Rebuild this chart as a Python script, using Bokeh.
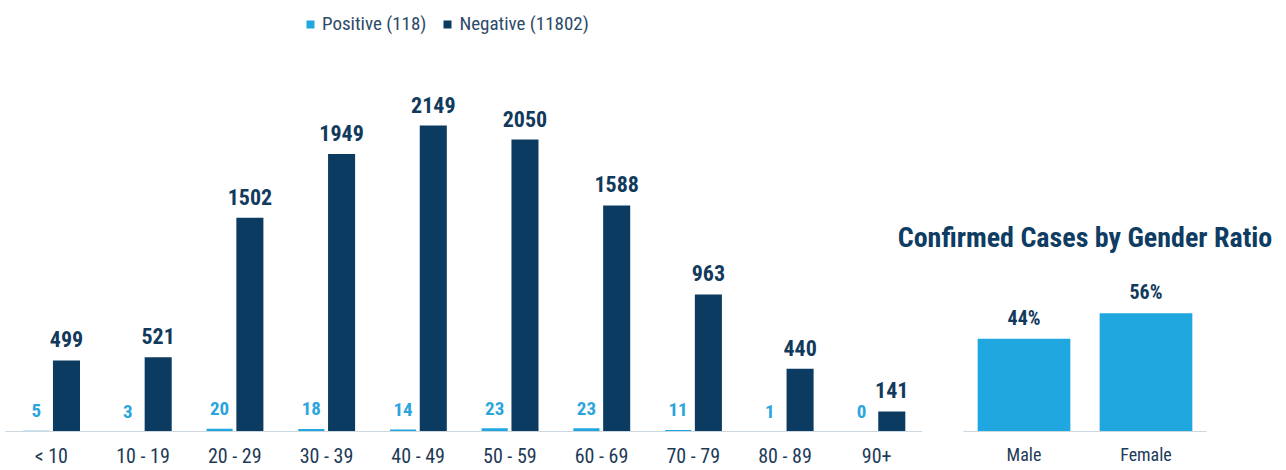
from bokeh.plotting import figure
from bokeh.models import ColumnDataSource, FactorRange, Range1d, Legend, LegendItem, GridBox, Label
from bokeh.transform import dodge
from bokeh.core.properties import value
from bokeh.embed import file_html
from bokeh.resources import INLINE

# ---------------- data ----------------
age_groups = ["< 10", "10 - 19", "20 - 29", "30 - 39", "40 - 49",
              "50 - 59", "60 - 69", "70 - 79", "80 - 89", "90+"]
positive = [5, 3, 20, 18, 14, 23, 23, 11, 1, 0]
negative = [499, 521, 1502, 1949, 2149, 2050, 1588, 963, 440, 141]

genders = ["Male", "Female"]
gender_pct = [44, 56]
gender_title = "Confirmed Cases by Gender Ratio"

# ---------------- style ----------------
FONT = "Roboto Condensed"
LIGHT = "#21a7df"
DARK = "#0b3b61"
DARK_TXT = "#123a5c"
LIGHT_TXT = "#2ba5dc"
AXIS_TXT = "#1d3a57"
BASE = "#cdd7e0"
H = 470
BASELINE = 431

# ---------------- left chart ----------------
src = ColumnDataSource(dict(
    age=age_groups, pos=positive, neg=negative,
    pos_txt=[str(v) for v in positive], neg_txt=[str(v) for v in negative]))

p = figure(x_range=FactorRange(*age_groups), y_range=Range1d(0, 3027),
           width=922, height=H, output_backend="svg", toolbar_location=None,
           y_axis_location=None, min_border_left=5, min_border_right=0,
           min_border_top=0, min_border_bottom=H - BASELINE,
           border_fill_color=None, background_fill_color=None,
           outline_line_color=None)

r_pos = p.vbar(x=dodge("age", -0.165, range=p.x_range), top="pos", width=0.285,
               source=src, fill_color=LIGHT, line_color=None)
r_neg = p.vbar(x=dodge("age", 0.165, range=p.x_range), top="neg", width=0.295,
               source=src, fill_color=DARK, line_color=None)

p.text(x=dodge("age", -0.165, range=p.x_range), y="pos", text="pos_txt", source=src,
       text_align="center", text_baseline="alphabetic", y_offset=-20,
       text_font=value(FONT), text_font_style="bold", text_font_size="19px",
       text_color=LIGHT_TXT)
p.text(x=dodge("age", 0.165, range=p.x_range), y="neg", text="neg_txt", source=src,
       text_align="center", text_baseline="alphabetic", y_offset=-21,
       text_font=value(FONT), text_font_style="bold", text_font_size="22px",
       text_color=DARK_TXT)

p.xgrid.visible = False
p.ygrid.visible = False
p.xaxis.axis_label = None
p.xaxis.axis_line_color = BASE
p.xaxis.axis_line_width = 1
p.xaxis.major_tick_line_color = None
p.xaxis.minor_tick_line_color = None
p.xaxis.major_label_text_font = FONT
p.xaxis.major_label_text_font_size = "20px"
p.xaxis.major_label_text_color = AXIS_TXT
p.xaxis.major_label_standoff = 6

legend = Legend(items=[
    LegendItem(label=f"Positive ({sum(positive)})", renderers=[r_pos]),
    LegendItem(label=f"Negative ({sum(negative)})", renderers=[r_neg])],
    orientation="horizontal", location=(300, 396),
    glyph_width=10, glyph_height=10, label_standoff=7, spacing=16,
    padding=0, margin=0, background_fill_alpha=0, border_line_color=None,
    label_text_font=FONT, label_text_font_size="19px",
    label_text_color="#2c4a69")
p.add_layout(legend)

# ---------------- right chart ----------------
gsrc = ColumnDataSource(dict(g=genders, v=gender_pct,
                             txt=[f"{v}%" for v in gender_pct]))

q = figure(x_range=FactorRange(*genders, range_padding=0.57),
           y_range=Range1d(0, 204.3),
           width=399, height=H, output_backend="svg", toolbar_location=None,
           y_axis_location=None, min_border_left=8, min_border_right=8,
           min_border_top=0, min_border_bottom=H - BASELINE,
           border_fill_color=None, background_fill_color=None,
           outline_line_color=None)

q.vbar(x="g", top="v", width=0.76, source=gsrc, fill_color=LIGHT, line_color=None)
q.text(x="g", y="v", text="txt", source=gsrc, text_align="center",
       text_baseline="alphabetic", y_offset=-21, text_font=value(FONT),
       text_font_style="bold", text_font_size="20px", text_color=DARK_TXT)

q.add_layout(Label(x=191.5, y=194, x_units="screen", y_units="screen",
                   text=gender_title, text_align="center", text_baseline="middle",
                   text_font=FONT, text_font_style="bold", text_font_size="28px",
                   text_color="#0e3c62"))

q.xgrid.visible = False
q.ygrid.visible = False
q.xaxis.axis_label = None
q.xaxis.bounds = (0, len(genders))
q.xaxis.axis_line_color = BASE
q.xaxis.major_tick_line_color = None
q.xaxis.minor_tick_line_color = None
q.xaxis.major_label_text_font = FONT
q.xaxis.major_label_text_font_size = "18px"
q.xaxis.major_label_text_color = AXIS_TXT
q.xaxis.major_label_standoff = 6

grid = GridBox(children=[(p, 0, 0, 1, 2), (q, 0, 1, 1, 2)],
               cols=["885px", "37px", "362px"], rows=[f"{H}px"], spacing=0)

open("out.html", "w").write(file_html(grid, INLINE))
